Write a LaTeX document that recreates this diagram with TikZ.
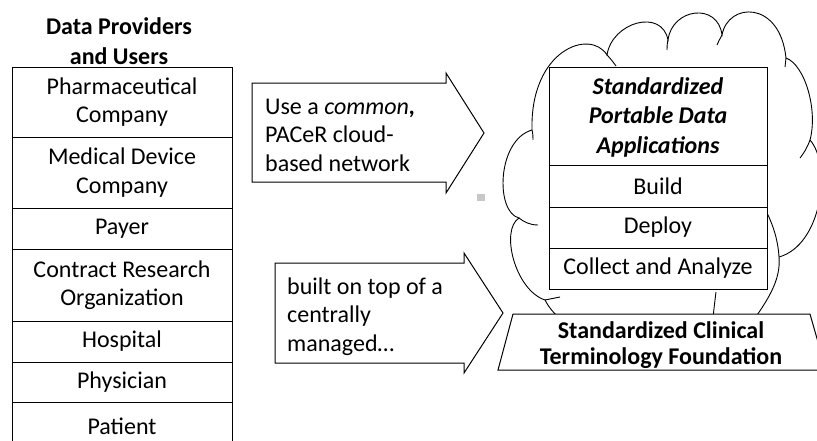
\documentclass[tikz,border=0pt]{standalone}
\usepackage{fontspec}
\setmainfont{Carlito}
\begin{document}
\begin{tikzpicture}[x=1pt,y=-1pt,
  txt/.style={font=\fontsize{24}{28.5}\selectfont, inner sep=0pt},
  cell/.style={txt, draw, fill=white, line width=1pt, minimum width=220pt, text width=214pt, align=flush center},
  scell/.style={txt, draw, fill=white, line width=1pt, minimum width=218pt, text width=212pt, align=flush center},
  shapeline/.style={draw, fill=white, line width=1pt, line join=miter},
  cloudline/.style={draw, line width=0.9pt},
  hook/.style={draw, line width=0.9pt}]
\clip (0,0) rectangle (817,440);
% title
\node[txt, align=center, font=\fontsize{24}{30}\selectfont\bfseries] (title) at (119,41) {Data Providers\\and Users};
% left column
\node[cell, minimum height=70pt] (r1) at (122,102) {Pharmaceutical\\Company};
\node[cell, minimum height=71pt] (r2) at (122,172.5) {Medical Device\\Company};
\node[cell, minimum height=41pt] (r3) at (122,228.5) {Payer};
\node[cell, minimum height=72pt] (r4) at (122,285) {Contract Research\\Organization};
\node[cell, minimum height=41pt] (r5) at (122,341.5) {Hospital};
\node[cell, minimum height=40pt] (r6) at (122,382) {Physician};
\node[cell, minimum height=48pt] (r7) at (122,426) {Patient};
% arrows
\path[shapeline] (252,83) -- (446,83) -- (446,73) -- (484,133) -- (446,193) -- (446,182) -- (252,182) -- cycle;
\node[txt, align=left, anchor=west] (a1) at (265,135) {Use a \textit{common}\textbf{\textit{,}}\\PACeR cloud-\\based network};
\path[shapeline] (275,263) -- (464,263) -- (464,253) -- (503,313) -- (464,373) -- (464,363) -- (275,363) -- cycle;
\node[txt, align=left, anchor=west] (a2) at (287,316.5) {built on top of a\\centrally\\managed\ldots};
% small grey mark
\node[fill=black!22, minimum width=8pt, minimum height=7pt, inner sep=0pt] (g) at (481,197.5) {};
% cloud
\path[cloudline] (532,130)
  .. controls (530,50) and (590,28) .. (607,55)
  .. controls (612,22) and (662,8) .. (668,40)
  .. controls (672,8) and (718,2) .. (722,35)
  .. controls (728,2) and (780,0) .. (786,58)
  .. controls (805,65) and (818,110) .. (810,140)
  .. controls (832,165) and (822,245) .. (779,257)
  .. controls (781,280) and (768,300) .. (750,325)
  .. controls (740,345) and (720,345) .. (713,325)
  .. controls (690,370) and (570,350) .. (545,300)
  .. controls (515,290) and (500,230) .. (519,218)
  .. controls (495,212) and (497,140) .. (532,130) -- cycle;
\path[hook] (532,130) .. controls (533,134) and (533,137) .. (533,140);
\path[hook] (607,55) .. controls (611,59) and (613,62) .. (616,66);
\path[hook] (668,40) .. controls (667,44) and (667,47) .. (667,50);
\path[hook] (722,35) .. controls (720,39) and (718,42) .. (717,45);
\path[hook] (786,58) .. controls (786,61) and (785,64) .. (785,67);
\path[hook] (810,140) .. controls (807,148) and (804,153) .. (800,158);
\path[hook] (779,257) .. controls (778,240) and (773,225) .. (767,213);
\path[hook] (716,292) .. controls (715,300) and (714,308) .. (713,318);
\path[hook] (519,218) .. controls (524,222) and (530,225) .. (538,225);
\path[hook] (545,300) .. controls (550,299) and (555,298) .. (560,297);
% stack
\node[scell, minimum height=99pt, font=\fontsize{24}{29.5}\selectfont\bfseries\itshape] (s1) at (658,117) {Standardized\\Portable Data\\Applications};
\node[scell, minimum height=42pt] (s2) at (658,186) {Build};
\node[scell, minimum height=41pt] (s3) at (658,227.5) {Deploy};
\node[scell, minimum height=41pt] (s4) at (658,268.5) {Collect and Analyze};
% foundation
\path[shapeline] (513,314) -- (810,314) -- (826,370) -- (498,370) -- cycle;
\node[txt, align=center, font=\fontsize{24}{26}\selectfont\bfseries] (found) at (661,345) {Standardized Clinical\\Terminology Foundation};
\end{tikzpicture}
\end{document}
